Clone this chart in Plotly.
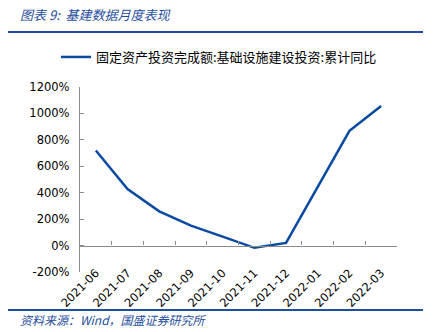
import plotly.graph_objects as go

categories = ["2021-06", "2021-07", "2021-08", "2021-09", "2021-10",
              "2021-11", "2021-12", "2022-01", "2022-02", "2022-03"]
values = [719, 428, 259, 151, 68, -17, 20, 445, 868, 1057]
series_name = "固定资产投资完成额:基础设施建设投资:累计同比"
y_ticks = [-200, 0, 200, 400, 600, 800, 1000, 1200]
y_ticklabels = [f"{v}%" for v in y_ticks]
title_text = "图表 9:  基建数据月度表现"
source_text = "资料来源：Wind，国盛证券研究所"

W, H = 435, 332
L, R, T, B = 80, 38, 87, 60
PW, PH = W - L - R, H - T - B

def px_x(px):
    return (px - L) / PW

def px_y(py):
    return (H - B - py) / PH

LINE_BLUE = "#0a4aa0"
HEAD_BLUE = "#1f4e9c"
AXIS = "#8c8c8c"
TICKFONT = dict(family="Tahoma, DejaVu Sans, sans-serif", size=11.5, color="#000000")

fig = go.Figure()
fig.add_trace(go.Scatter(
    x=categories, y=values, mode="lines", name=series_name,
    line=dict(color=LINE_BLUE, width=2.5),
))

fig.update_layout(
    width=W, height=H,
    margin=dict(l=L, r=R, t=T, b=B, pad=0),
    paper_bgcolor="white", plot_bgcolor="white",
    showlegend=True,
    legend=dict(orientation="h", x=px_x(56), y=px_y(57), xanchor="left", yanchor="middle",
                font=dict(family="Noto Sans CJK SC", size=13, color="#000000"),
                itemwidth=30, bgcolor="rgba(0,0,0,0)"),
    xaxis=dict(type="category", range=[-0.5, 9.5], tickson="boundaries",
               showline=True, linecolor=AXIS, linewidth=1.3,
               ticks="inside", ticklen=4, tickcolor=AXIS, tickwidth=1.3,
               tickangle=-45, tickfont=TICKFONT, showgrid=False, zeroline=False,
               ticklabelstandoff=15,
               anchor="free", position=200 / 1400),
    yaxis=dict(range=[-200, 1200], tickvals=y_ticks, ticktext=y_ticklabels,
               showline=True, linecolor=AXIS, linewidth=1.3,
               ticks="inside", ticklen=4, tickcolor=AXIS, tickwidth=1.3,
               ticklabelstandoff=7,
               tickfont=TICKFONT, showgrid=False, zeroline=False),
)

fig.add_annotation(text=title_text, xref="paper", yref="paper",
                   x=px_x(18), y=px_y(14), xanchor="left", yanchor="middle",
                   showarrow=False,
                   font=dict(family="Noto Sans CJK SC", size=13, color=HEAD_BLUE,
                             style="italic"))
fig.add_annotation(text=source_text, xref="paper", yref="paper",
                   x=px_x(18), y=px_y(319), xanchor="left", yanchor="middle",
                   showarrow=False,
                   font=dict(family="Noto Sans CJK SC", size=12, color=HEAD_BLUE,
                             style="italic"))
fig.add_shape(type="line", xref="paper", yref="paper",
              x0=px_x(8), x1=px_x(423), y0=px_y(32), y1=px_y(32),
              line=dict(color=HEAD_BLUE, width=2))
fig.add_shape(type="line", xref="paper", yref="paper",
              x0=px_x(8), x1=px_x(423), y0=px_y(310), y1=px_y(310),
              line=dict(color=HEAD_BLUE, width=2))

fig.write_html("out.html")
